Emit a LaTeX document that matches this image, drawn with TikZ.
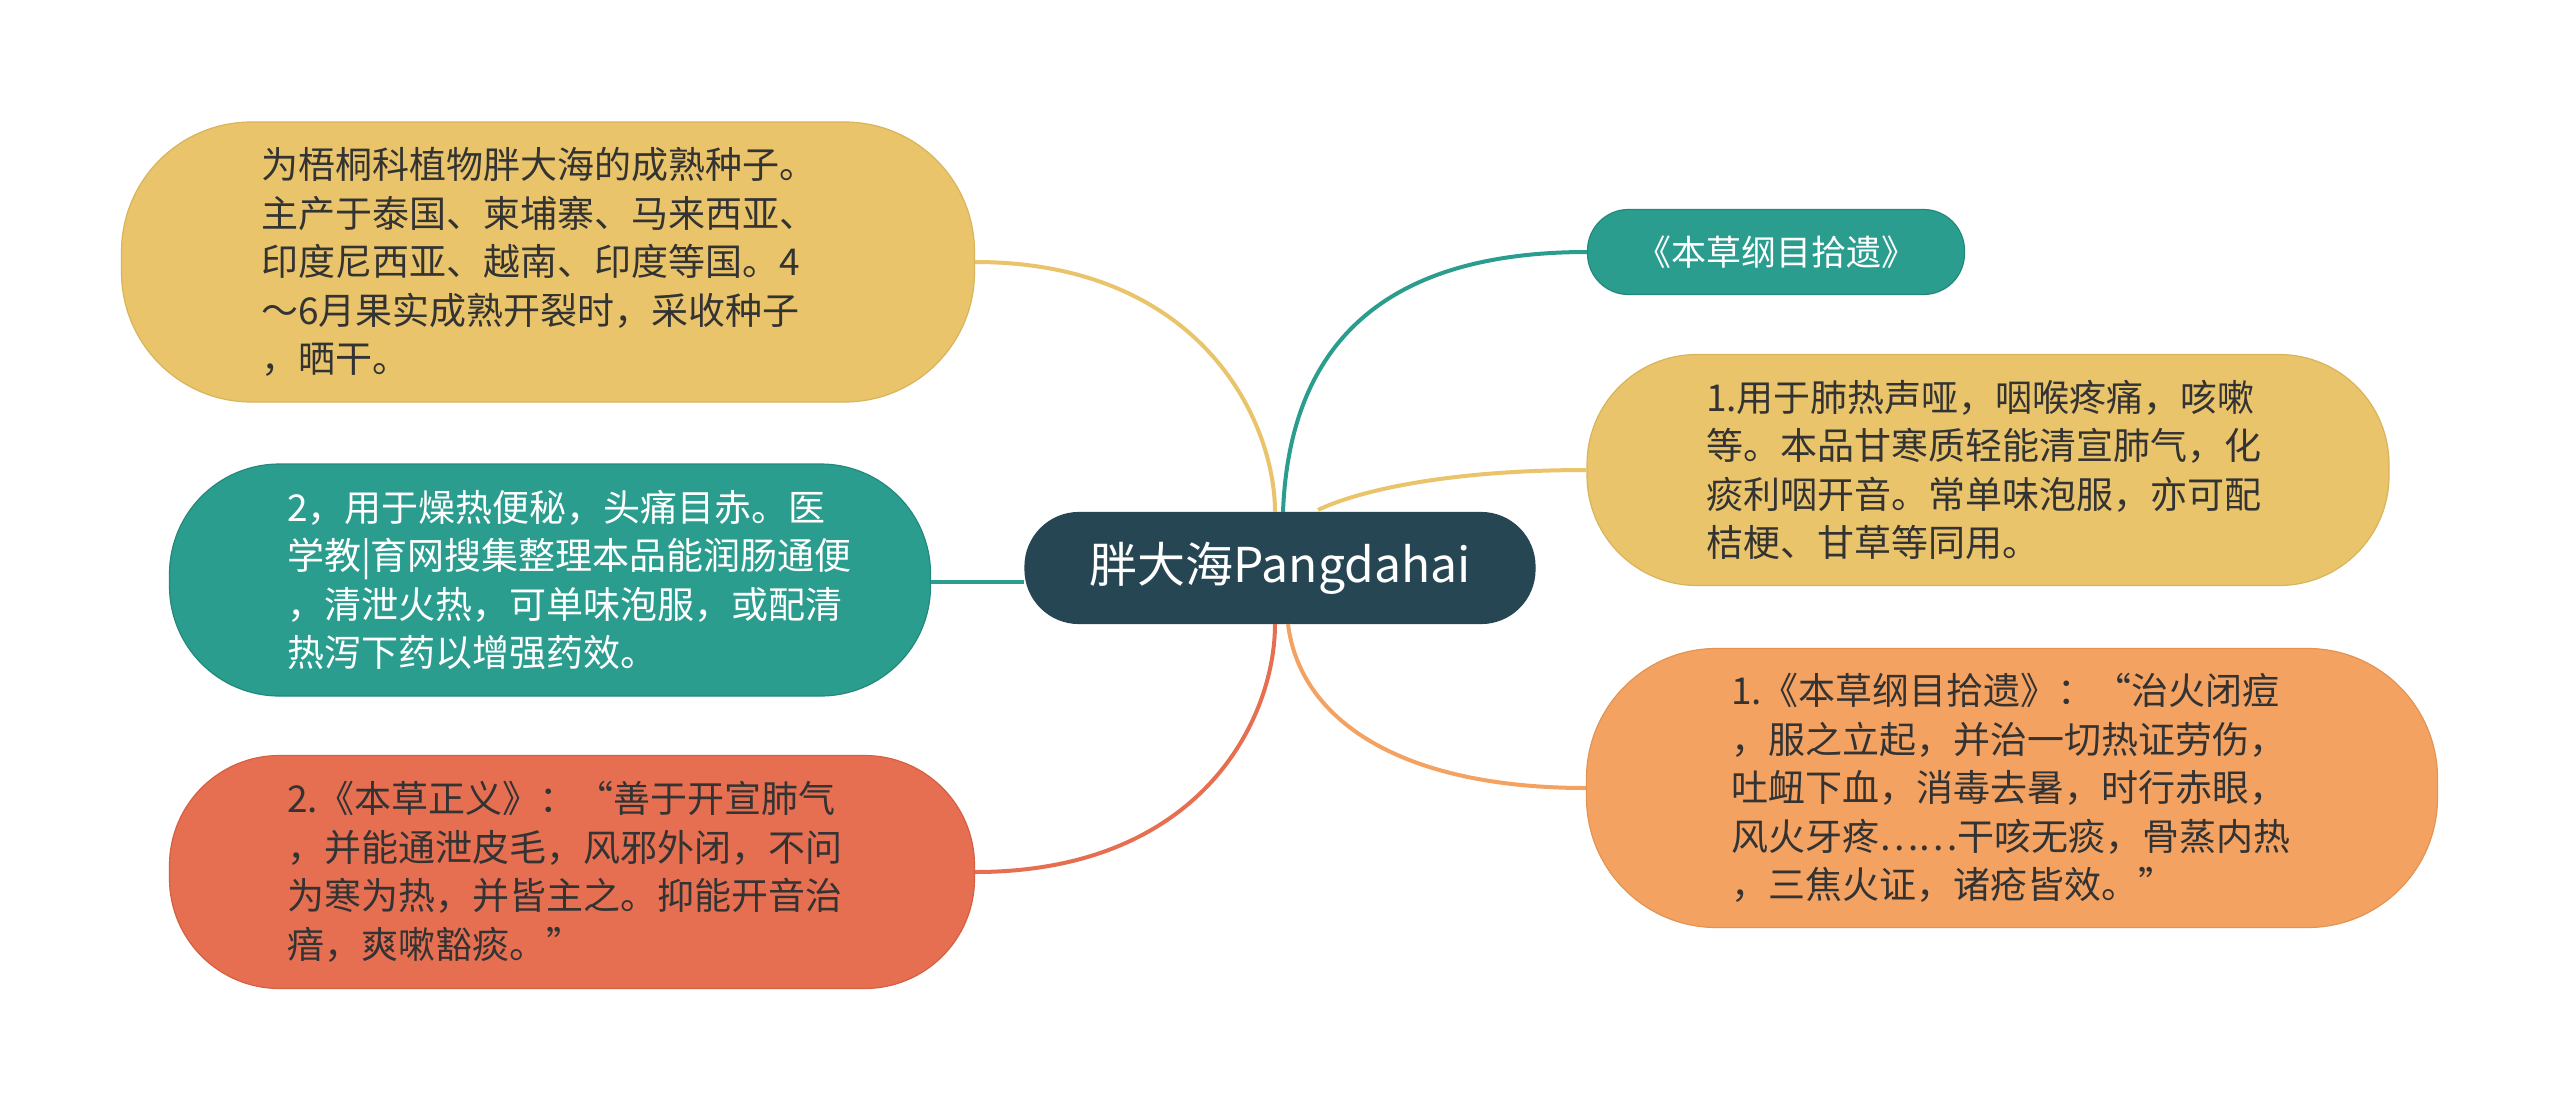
\documentclass[tikz,border=0pt]{standalone}
\usepackage{fontspec}
\setmainfont{Noto Sans CJK SC}
\definecolor{cyel}{HTML}{E9C46A}
\definecolor{cyeld}{HTML}{D9B45A}
\definecolor{cteal}{HTML}{2A9D8F}
\definecolor{ctealb}{HTML}{22897C}
\definecolor{cred}{HTML}{E76F51}
\definecolor{credd}{HTML}{D65F42}
\definecolor{corg}{HTML}{F4A261}
\definecolor{corgd}{HTML}{E39352}
\definecolor{cdark}{HTML}{264653}
\definecolor{ctxt}{HTML}{333333}
\begin{document}
\begin{tikzpicture}[x=1pt,y=-1pt,
  pill/.style={inner sep=0pt, align=left, line width=1.2pt, font=\fontsize{37}{48.5}\selectfont},
  link/.style={line width=4pt}]
\useasboundingbox (0,0) rectangle (2560,1112);
\fill[white] (0,0) rectangle (2560,1112);

% center
\node[pill, align=center, fill=cdark, draw=cdark, text=white, minimum width=510pt, minimum height=111pt,
  rounded corners=54pt, font=\fontsize{48}{58}\selectfont] (c) at (1280,568) {胖大海Pangdahai};

% left nodes
\node[pill, fill=cyel, draw=cyeld, text=ctxt, minimum width=853pt, minimum height=280pt,
  rounded corners=130pt, text width=574pt] (tl) at (548,262)
  {为梧桐科植物胖大海的成熟种子。\\
   主产于泰国、柬埔寨、马来西亚、\\
   印度尼西亚、越南、印度等国。4\\
   ～6月果实成熟开裂时，采收种子\\
   ，晒干。};

\node[pill, fill=cteal, draw=ctealb, text=white, minimum width=761pt, minimum height=232pt,
  rounded corners=110pt, text width=526pt] (tm) at (550,580)
  {2，用于燥热便秘，头痛目赤。医\\
   学教\textbar 育网搜集整理本品能润肠通便\\
   ，清泄火热，可单味泡服，或配清\\
   热泻下药以增强药效。};

\node[pill, fill=cred, draw=credd, text=ctxt, minimum width=805pt, minimum height=233pt,
  rounded corners=110pt, text width=570pt] (rl) at (572,872)
  {2.《本草正义》：“善于开宣肺气\\
   ，并能通泄皮毛，风邪外闭，不问\\
   为寒为热，并皆主之。抑能开音治\\
   瘖，爽嗽豁痰。”};

% right nodes
\node[pill, align=center, fill=cteal, draw=ctealb, text=white, minimum width=377pt, minimum height=85pt,
  rounded corners=41pt, font=\fontsize{35}{42}\selectfont] (rt) at (1776,252) {《本草纲目拾遗》};

\node[pill, fill=cyel, draw=cyeld, text=ctxt, minimum width=802pt, minimum height=231pt,
  rounded corners=110pt, text width=564pt] (ry) at (1988,470)
  {1.用于肺热声哑，咽喉疼痛，咳嗽\\
   等。本品甘寒质轻能清宣肺气，化\\
   痰利咽开音。常单味泡服，亦可配\\
   桔梗、甘草等同用。};

\node[pill, fill=corg, draw=corgd, text=ctxt, minimum width=851pt, minimum height=279pt,
  rounded corners=130pt, text width=562pt] (ro) at (2012,788)
  {1.《本草纲目拾遗》：“治火闭痘\\
   ，服之立起，并治一切热证劳伤，\\
   吐衄下血，消毒去暑，时行赤眼，\\
   风火牙疼……干咳无痰，骨蒸内热\\
   ，三焦火证，诸疮皆效。”};

% connectors
\draw[link, cyel] (tl.east) .. controls (1200,262) and (1275,420) .. ([xshift=-5pt]c.north);
\draw[link, cteal] ([yshift=-2pt]tm.east) -- ([yshift=-2pt]tm.east -| c.west);
\draw[link, cred] (rl.east) .. controls (1200,872) and (1275,720) .. ([xshift=-5pt]c.south);
\draw[link, cteal] ([xshift=3pt]c.north) .. controls (1290,330) and (1400,252) .. (rt.west);
\draw[link, cyel] ([xshift=38pt,yshift=2pt]c.north) .. controls (1360,490) and (1450,470) .. (ry.west);
\draw[link, corg] ([xshift=8pt]c.south) .. controls (1300,720) and (1400,788) .. (ro.west);
\end{tikzpicture}
\end{document}
